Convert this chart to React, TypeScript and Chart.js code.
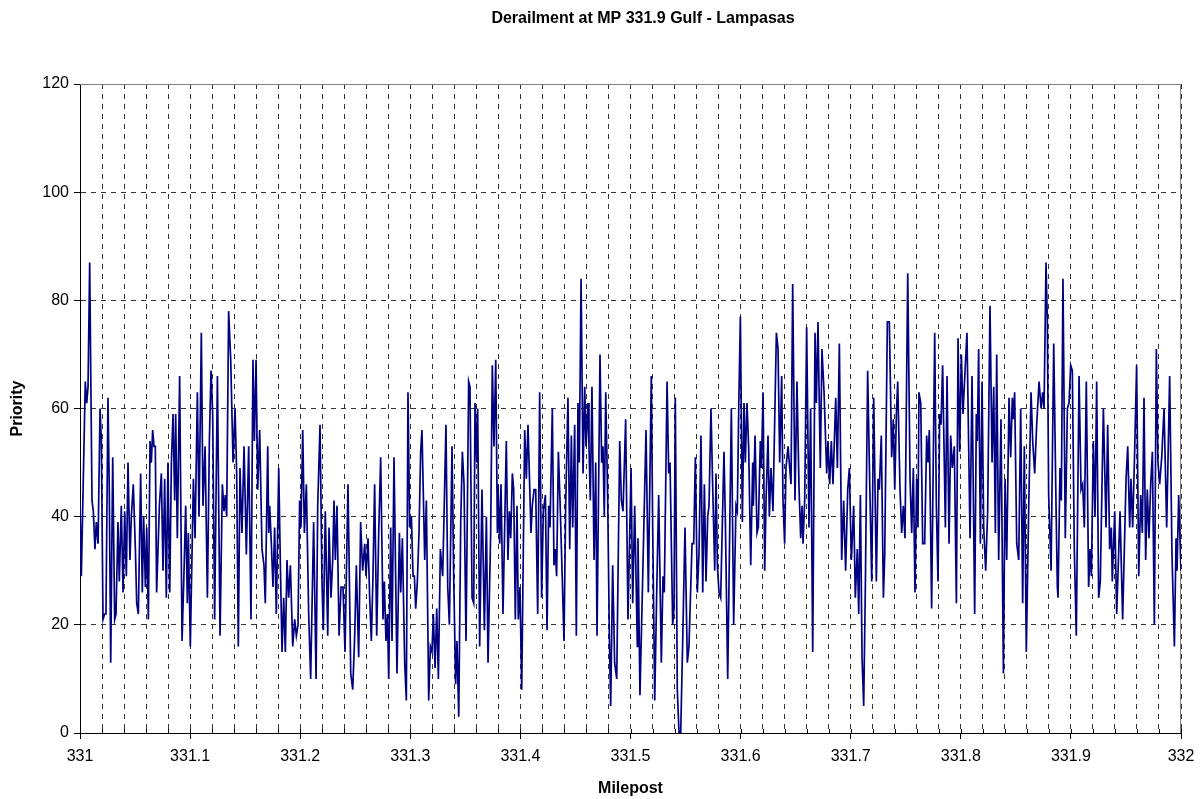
import React, { useEffect, useRef } from "react";
import { Chart, registerables } from "chart.js";

Chart.register(...registerables);

const TITLE = "Derailment at MP 331.9 Gulf - Lampasas";
const X_TITLE = "Milepost";
const Y_TITLE = "Priority";

const X_MIN = 331;
const X_MAX = 332;
const X_GRID_STEP = 0.02;
const Y_MIN = 0;
const Y_MAX = 120;
const Y_STEP = 20;

// Milepost of each traced vertex
const mileposts = [
  331.0000, 331.0012, 331.0048, 331.0061, 331.0073, 331.0088, 331.0109, 331.0121, 331.0136, 331.0148,
  331.0164, 331.0182, 331.0194, 331.0209, 331.0224, 331.0236, 331.0254, 331.0266, 331.0279, 331.0297,
  331.0315, 331.0327, 331.0345, 331.0357, 331.0375, 331.0391, 331.0406, 331.0421, 331.0436, 331.0454,
  331.0466, 331.0484, 331.0503, 331.0515, 331.0530, 331.0551, 331.0566, 331.0578, 331.0594, 331.0606,
  331.0621, 331.0636, 331.0648, 331.0660, 331.0672, 331.0684, 331.0696, 331.0721, 331.0739, 331.0754,
  331.0769, 331.0784, 331.0799, 331.0815, 331.0830, 331.0845, 331.0860, 331.0869, 331.0884, 331.0905,
  331.0927, 331.0945, 331.0960, 331.0975, 331.0984, 331.1002, 331.1030, 331.1045, 331.1066, 331.1081,
  331.1102, 331.1117, 331.1136, 331.1157, 331.1175, 331.1190, 331.1205, 331.1223, 331.1248,
  331.1272, 331.1293, 331.1308, 331.1320, 331.1332, 331.1350, 331.1369, 331.1390, 331.1408, 331.1423,
  331.1438, 331.1453, 331.1471, 331.1490, 331.1511, 331.1532, 331.1553, 331.1571, 331.1584, 331.1599,
  331.1614, 331.1632, 331.1653, 331.1671, 331.1683, 331.1705, 331.1714, 331.1723, 331.1738, 331.1753,
  331.1768, 331.1783, 331.1805, 331.1820, 331.1835, 331.1850, 331.1865, 331.1880, 331.1895, 331.1911,
  331.1932, 331.1950, 331.1965, 331.1980, 331.1995, 331.2007, 331.2023, 331.2038, 331.2056, 331.2077,
  331.2095, 331.2122, 331.2144, 331.2159, 331.2180, 331.2198, 331.2210, 331.2228, 331.2250, 331.2262,
  331.2280, 331.2295, 331.2307, 331.2319, 331.2334, 331.2353, 331.2371, 331.2389, 331.2407, 331.2434,
  331.2459, 331.2477, 331.2495, 331.2510,
  331.2531, 331.2549, 331.2567, 331.2586, 331.2598, 331.2616, 331.2631, 331.2646, 331.2661, 331.2676,
  331.2695, 331.2713, 331.2731, 331.2752, 331.2764, 331.2779, 331.2792, 331.2804, 331.2822, 331.2834,
  331.2852, 331.2879, 331.2901, 331.2913, 331.2928, 331.2949, 331.2964, 331.2979, 331.2994, 331.3010,
  331.3025, 331.3037, 331.3049, 331.3064, 331.3079, 331.3094, 331.3106, 331.3131, 331.3146, 331.3167,
  331.3182, 331.3197, 331.3209, 331.3225, 331.3240, 331.3255, 331.3273, 331.3294, 331.3306, 331.3324,
  331.3340, 331.3355, 331.3379, 331.3394, 331.3412, 331.3424, 331.3440, 331.3458, 331.3473, 331.3488,
  331.3506, 331.3530, 331.3542, 331.3561, 331.3576, 331.3588, 331.3603, 331.3612, 331.3630, 331.3651,
  331.3673, 331.3691, 331.3706, 331.3730, 331.3745, 331.3760, 331.3776, 331.3791,
  331.3797, 331.3812, 331.3824, 331.3842, 331.3872, 331.3887, 331.3900, 331.3912, 331.3927, 331.3939,
  331.3954, 331.3969, 331.3981, 331.3996, 331.4012, 331.4039, 331.4054, 331.4069, 331.4084, 331.4096,
  331.4108, 331.4124, 331.4139, 331.4157, 331.4175, 331.4193, 331.4208, 331.4227, 331.4242, 331.4257,
  331.4269, 331.4290, 331.4305, 331.4317, 331.4329, 331.4345, 331.4360, 331.4381, 331.4396, 331.4411,
  331.4432, 331.4448, 331.4463, 331.4475, 331.4493, 331.4508, 331.4523, 331.4535, 331.4551, 331.4569,
  331.4584, 331.4596, 331.4614, 331.4623, 331.4635, 331.4650, 331.4669, 331.4684, 331.4696, 331.4723,
  331.4738, 331.4750, 331.4762, 331.4775, 331.4793, 331.4808, 331.4820, 331.4838, 331.4856, 331.4875,
  331.4902, 331.4917, 331.4932, 331.4956, 331.4977, 331.4990, 331.5005, 331.5020, 331.5038, 331.5062,
  331.5068, 331.5086, 331.5111, 331.5141, 331.5162, 331.5189, 331.5201, 331.5220, 331.5238, 331.5256,
  331.5280, 331.5295, 331.5307, 331.5332, 331.5347, 331.5359, 331.5383, 331.5395, 331.5407, 331.5425,
  331.5441, 331.5456, 331.5474, 331.5495, 331.5516, 331.5531, 331.5559, 331.5574, 331.5589, 331.5607,
  331.5622, 331.5640, 331.5656, 331.5671, 331.5686, 331.5701, 331.5713, 331.5731, 331.5746, 331.5765,
  331.5777, 331.5789, 331.5804, 331.5819, 331.5849, 331.5861, 331.5883, 331.5916, 331.5937, 331.5958,
  331.5970, 331.5983, 331.5998, 331.6016, 331.6031, 331.6043, 331.6058, 331.6073, 331.6092, 331.6110,
  331.6116, 331.6131, 331.6149, 331.6161, 331.6179, 331.6189, 331.6204, 331.6219, 331.6231, 331.6249,
  331.6261, 331.6276, 331.6294, 331.6325,
  331.6340, 331.6355, 331.6373, 331.6385, 331.6400, 331.6412, 331.6431, 331.6446, 331.6458, 331.6473,
  331.6494, 331.6512, 331.6531, 331.6546, 331.6558, 331.6567, 331.6582, 331.6600, 331.6621, 331.6636,
  331.6655, 331.6676, 331.6688, 331.6703, 331.6724, 331.6739, 331.6758, 331.6782, 331.6794, 331.6809,
  331.6824, 331.6839, 331.6864, 331.6879, 331.6897, 331.6918, 331.6936, 331.6954, 331.6973, 331.6988,
  331.7006, 331.7027, 331.7042, 331.7060, 331.7073, 331.7088, 331.7103, 331.7118, 331.7133, 331.7154,
  331.7172, 331.7191, 331.7209, 331.7233, 331.7248, 331.7260, 331.7278, 331.7297, 331.7309, 331.7333,
  331.7351, 331.7372, 331.7387, 331.7400, 331.7415, 331.7427, 331.7448, 331.7463, 331.7478, 331.7493,
  331.7518, 331.7539, 331.7554, 331.7569, 331.7584, 331.7599,
  331.7611, 331.7620, 331.7636, 331.7654, 331.7672, 331.7690, 331.7702, 331.7714, 331.7735, 331.7763,
  331.7778, 331.7793, 331.7808, 331.7820, 331.7835, 331.7860, 331.7875, 331.7893, 331.7908, 331.7923,
  331.7941, 331.7960, 331.7975, 331.7990, 331.8005, 331.8020, 331.8041, 331.8056, 331.8084, 331.8102,
  331.8126, 331.8141, 331.8150, 331.8162, 331.8178, 331.8193, 331.8208, 331.8226, 331.8244, 331.8265,
  331.8284, 331.8299, 331.8314, 331.8326, 331.8344, 331.8365, 331.8387, 331.8402, 331.8417, 331.8438,
  331.8453, 331.8468, 331.8477, 331.8489, 331.8508, 331.8526, 331.8544, 331.8562, 331.8577, 331.8595,
  331.8617, 331.8638, 331.8653, 331.8671, 331.8689, 331.8711, 331.8729, 331.8744, 331.8756, 331.8774,
  331.8786, 331.8798, 331.8820, 331.8844, 331.8865, 331.8877,
  331.8883, 331.8901, 331.8913, 331.8928, 331.8949, 331.8968, 331.8983, 331.8998, 331.9013, 331.9031,
  331.9049, 331.9074, 331.9092, 331.9107, 331.9122, 331.9140, 331.9161, 331.9174, 331.9186, 331.9204,
  331.9219, 331.9234, 331.9252, 331.9267, 331.9295, 331.9319, 331.9334, 331.9352, 331.9367, 331.9376,
  331.9398, 331.9416, 331.9446, 331.9470, 331.9501, 331.9516, 331.9534, 331.9546, 331.9561, 331.9579,
  331.9597, 331.9616, 331.9634, 331.9649, 331.9664, 331.9679, 331.9694, 331.9709, 331.9725, 331.9740,
  331.9758, 331.9776, 331.9791, 331.9806, 331.9825, 331.9846, 331.9870, 331.9897, 331.9918, 331.9940,
  331.9955, 331.9964, 331.9979, 332.0000,
];

// Priority at each vertex
const priority = [
  43, 29, 65, 61, 64, 87, 43, 41, 34, 39,
  35, 60, 54, 21, 22, 22, 62, 45, 13, 51,
  21, 22, 39, 28, 42, 26, 41, 29, 50, 32,
  40, 46, 34, 24, 22, 48, 26, 40, 27, 38,
  21, 54, 50, 56, 53, 53, 26, 42, 48, 30,
  47, 25, 50, 26, 50, 59, 43, 59, 36, 66,
  17, 30, 42, 24, 37, 16, 47, 36, 63, 40,
  74, 42, 53, 25, 54, 67, 59, 21, 66,
  18, 46, 41, 44, 40, 78, 69, 50, 60, 48,
  16, 49, 37, 53, 33, 53, 21, 69, 54, 69,
  45, 56, 34, 31, 24, 53, 37, 42, 35, 27,
  38, 22, 49, 31, 15, 25, 15, 32, 25, 31,
  16, 21, 18, 20, 43, 38, 56, 37, 46, 22,
  10, 39, 10, 42, 57, 28, 19, 41, 18, 38,
  25, 32, 43, 32, 42, 18, 27, 27, 15, 46,
  11, 8, 18, 31,
  14, 39, 30, 35, 29, 36, 25, 17, 29, 46,
  18, 37, 51, 21, 28, 17, 22, 10, 38, 17,
  51, 11, 37, 26, 36, 13, 6, 63, 38, 40,
  29, 29, 23, 28, 37, 52, 56, 32, 43, 6,
  16, 15, 22, 12, 23, 10, 34, 29, 40, 57,
  27, 20, 53, 29, 9, 17, 3, 39, 52, 46,
  17, 65, 64, 25, 24, 61, 50, 60, 16, 45,
  19, 40, 13, 37, 68, 53, 69, 37,
  46, 35, 46, 22, 54, 32, 41, 36, 48, 45,
  21, 42, 21, 27, 8, 56, 47, 57, 46, 37,
  42, 45, 45, 22, 63, 25, 41, 44, 19, 42,
  38, 60, 31, 34, 29, 52, 43, 28, 17, 42,
  62, 34, 55, 38, 57, 18, 61, 50, 84, 48,
  64, 53, 61, 53, 43, 64, 32, 50, 18, 70,
  50, 53, 40, 63, 43, 18, 5, 31, 13, 10,
  54, 43, 41, 58, 21, 34, 49, 24, 42, 16,
  36, 7, 29, 56, 26, 66, 39, 6, 26, 44,
  13, 29, 26, 65, 48, 50, 20, 23, 62, 8,
  0, 0, 17, 38, 13, 16, 35, 35, 51, 26,
  33, 55, 26, 46, 28, 40, 42, 60, 46, 30,
  48, 31, 26, 25, 52, 40, 10, 60, 20, 42,
  41, 60, 77, 39, 61, 50, 61, 53, 31, 50,
  42, 55, 37, 38, 54, 49, 63, 30, 43, 55,
  40, 49, 41, 74,
  71, 50, 66, 43, 35, 49, 53, 49, 46, 83,
  43, 65, 45, 36, 42, 35, 43, 75, 38, 60,
  15, 74, 61, 76, 49, 71, 63, 48, 54, 46,
  54, 46, 62, 49, 72, 32, 43, 30, 45, 49,
  32, 42, 25, 34, 22, 44, 14, 5, 27, 67,
  47, 28, 62, 28, 47, 45, 55, 25, 33, 76,
  76, 51, 58, 45, 59, 65, 45, 37, 42, 36,
  85, 47, 37, 49, 26, 47,
  38, 63, 61, 35, 35, 55, 50, 56, 23, 74,
  42, 28, 59, 57, 68, 38, 66, 35, 55, 49,
  53, 24, 73, 52, 70, 59, 68, 74, 36, 66,
  22, 59, 54, 71, 35, 65, 38, 30, 41, 79,
  50, 64, 37, 70, 32, 58, 11, 47, 32, 62,
  51, 62, 58, 63, 35, 32, 60, 24, 53, 15,
  42, 63, 54, 48, 57, 65, 60, 63, 60, 87,
  76, 44, 30, 72, 42, 27,
  25, 49, 43, 84, 36, 60, 61, 68, 67, 34,
  18, 66, 45, 46, 38, 65, 27, 34, 29, 54,
  40, 65, 25, 28, 60, 38, 57, 34, 38, 28,
  41, 22, 41, 21, 47, 53, 38, 47, 38, 52,
  68, 29, 44, 37, 62, 32, 45, 36, 46, 52,
  20, 71, 50, 46, 51, 60, 38, 66, 33, 16,
  36, 30, 44, 30,
];

const FONT_FAMILY = "'Liberation Sans', Arial, Helvetica, sans-serif";
const FONT_SIZE = 16;

function isLabelled(v: number): boolean {
  const r = Math.round(v * 10) / 10;
  return Math.abs(v - r) < 1e-6;
}

export default function App() {
  const canvasRef = useRef<HTMLCanvasElement | null>(null);

  useEffect(() => {
    const canvas = canvasRef.current;
    if (!canvas) return;

    const points = mileposts.map((x, i) => ({ x, y: priority[i] }));

    const decorPlugin = {
      id: "decor",
      beforeDatasetsDraw(chart: any) {
        const { ctx, chartArea: a } = chart;
        ctx.save();
        ctx.strokeStyle = "#808080";
        ctx.lineWidth = 1;
        ctx.setLineDash([]);
        ctx.beginPath();
        ctx.moveTo(a.left, Math.round(a.top) + 0.5);
        ctx.lineTo(Math.round(a.right) - 0.5, Math.round(a.top) + 0.5);
        ctx.lineTo(Math.round(a.right) - 0.5, a.bottom);
        ctx.stroke();
        const xs = chart.scales.x;
        ctx.strokeStyle = "#000";
        ctx.beginPath();
        xs.ticks.forEach((t: any) => {
          const px = Math.round(xs.getPixelForValue(t.value)) + 0.5;
          ctx.moveTo(px, a.bottom);
          ctx.lineTo(px, a.bottom - 4);
        });
        ctx.stroke();
        ctx.restore();
      },
      afterDraw(chart: any) {
        const { ctx } = chart;
        ctx.save();
        ctx.font = `bold ${FONT_SIZE}px ${FONT_FAMILY}`;
        ctx.fillStyle = "#000";
        ctx.textAlign = "center";
        ctx.textBaseline = "middle";
        ctx.fillText(TITLE, 643, 19);
        ctx.restore();
      },
    };

    const chart = new Chart(canvas, {
      type: "line",
      data: {
        datasets: [
          {
            data: points,
            borderColor: "#000080",
            borderWidth: 1.7,
            pointRadius: 0,
            pointHoverRadius: 0,
            fill: false,
            tension: 0,
          },
        ],
      },
      options: {
        responsive: false,
        animation: false,
        devicePixelRatio: 1,
        layout: { padding: { top: 84, right: 22, left: 0, bottom: 0 } },
        plugins: {
          legend: { display: false },
          tooltip: { enabled: false },
          title: { display: false },
        },
        scales: {
          x: {
            type: "linear",
            min: X_MIN,
            max: X_MAX,
            afterFit: (s: any) => {
              s.height = 66;
            },
            ticks: {
              stepSize: X_GRID_STEP,
              autoSkip: false,
              maxRotation: 0,
              minRotation: 0,
              padding: 8,
              color: "#000",
              font: { family: FONT_FAMILY, size: FONT_SIZE },
              callback: (value: any) => {
                const v = Number(value);
                return isLabelled(v) ? String(Math.round(v * 10) / 10) : "";
              },
            },
            grid: {
              color: "#333",
              lineWidth: 1,
              drawTicks: true,
              tickLength: 6,
              tickColor: (c: any) =>
                c.tick && isLabelled(c.tick.value) ? "#000" : "rgba(0,0,0,0)",
              tickBorderDash: [],
            },
            border: { display: true, color: "#000", width: 1, dash: [5, 5] },
            title: {
              display: true,
              text: X_TITLE,
              color: "#000",
              font: { family: FONT_FAMILY, size: FONT_SIZE, weight: "bold" },
              padding: { top: 0, bottom: 0.4 },
            },
          },
          y: {
            type: "linear",
            min: Y_MIN,
            max: Y_MAX,
            afterFit: (s: any) => {
              s.width = 80;
            },
            ticks: {
              stepSize: Y_STEP,
              padding: 5,
              color: "#000",
              font: { family: FONT_FAMILY, size: FONT_SIZE },
            },
            grid: {
              color: "#333",
              lineWidth: 1,
              drawTicks: true,
              tickLength: 6,
              tickColor: "#000",
              tickBorderDash: [],
            },
            border: { display: true, color: "#000", width: 1, dash: [5, 5] },
            title: {
              display: true,
              text: Y_TITLE,
              color: "#000",
              font: { family: FONT_FAMILY, size: FONT_SIZE, weight: "bold" },
              padding: { top: 8.4, bottom: 0 },
            },
          },
        },
      },
      plugins: [decorPlugin],
    } as any);

    return () => {
      chart.destroy();
    };
  }, []);

  return (
    <div
      style={{
        position: "fixed",
        left: 0,
        top: 0,
        width: 1203,
        height: 799,
        background: "#fff",
      }}
    >
      <canvas ref={canvasRef} width={1203} height={799} style={{ display: "block" }} />
    </div>
  );
}
